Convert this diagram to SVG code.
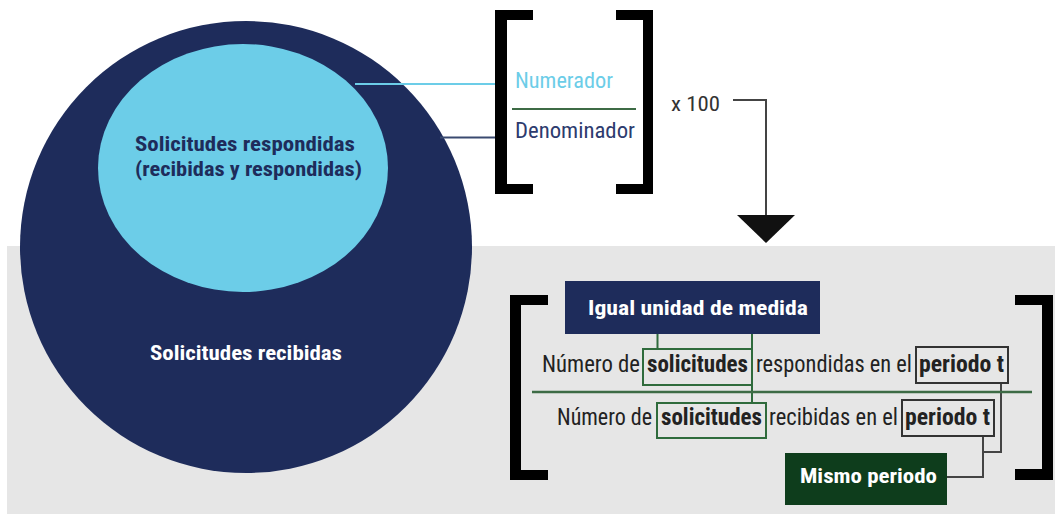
<svg xmlns="http://www.w3.org/2000/svg" width="1055" height="514" viewBox="0 0 1055 514">
<style>
text{font-family:"Liberation Sans Narrow","Roboto Condensed","Liberation Sans",Arial,sans-serif}
.b{font-weight:bold}
.br{fill:#000}
.gline{stroke:#2f6b3c;stroke-width:2;fill:none}
.kline{stroke:#444;stroke-width:2;fill:none}
.gbox{fill:none;stroke:#2f6b3c;stroke-width:2}
.kbox{fill:none;stroke:#333;stroke-width:2}
.frm{font-size:23px;fill:#222}
</style>
<rect width="1055" height="514" fill="#fff"/>
<rect id="panel" x="7" y="246" width="1048" height="268" fill="#e6e6e6"/>

<g id="recibidas">
<circle cx="246" cy="247" r="226" fill="#1e2c5b"/>
<text class="b" x="150" y="360" font-size="21" fill="#fff" textLength="192" lengthAdjust="spacingAndGlyphs">Solicitudes recibidas</text>
</g>
<g id="respondidas">
<ellipse cx="243" cy="168" rx="145" ry="124" fill="#6ccde8"/>
<text class="b" x="135" y="151" font-size="21" fill="#1e2c5b" textLength="220" lengthAdjust="spacingAndGlyphs">Solicitudes respondidas</text>
<text class="b" x="135" y="176" font-size="21" fill="#1e2c5b" textLength="227" lengthAdjust="spacingAndGlyphs">(recibidas y respondidas)</text>
</g>

<g id="connectors">
<line x1="355" y1="84" x2="507" y2="84" stroke="#6ccde8" stroke-width="2"/>
<line x1="440" y1="137.5" x2="507" y2="137.5" stroke="#3a4a70" stroke-width="2"/>
<polyline class="kline" points="733,100 766,100 766,216"/>
<polygon points="737,215 795,215 766,243" fill="#111"/>
<line class="gline" x1="657.5" y1="334" x2="657.5" y2="349"/>
<line class="gline" x1="752" y1="334" x2="752" y2="403"/>
<polyline class="kline" points="1001,383 1001,452 983,452"/>
<polyline class="kline" points="983,436 983,477 947,477"/>
</g>

<g id="formula-top">
<path class="br" d="M495,10H533V20H507V184H533V194H495Z"/>
<path class="br" d="M653,10H616V20H643V184H616V194H653Z"/>
<text x="515" y="88" font-size="22" fill="#6ccde8" textLength="98" lengthAdjust="spacingAndGlyphs">Numerador</text>
<line x1="512" y1="109" x2="636" y2="109" stroke="#3d6b45" stroke-width="2"/>
<text x="515" y="138" font-size="22" fill="#2d3b6e" textLength="120" lengthAdjust="spacingAndGlyphs">Denominador</text>
<text x="671" y="111" font-size="21" fill="#333" textLength="49" lengthAdjust="spacingAndGlyphs">x 100</text>
</g>

<g id="formula-bottom">
<path class="br" d="M510,295H548V305H521V470H548V480H510Z"/>
<path class="br" d="M1053,295H1015V305H1042V469H1015V480H1053Z"/>
<line x1="532" y1="392" x2="1032" y2="392" stroke="#3d6b45" stroke-width="2.5"/>
<text class="frm" x="542" y="372" textLength="98" lengthAdjust="spacingAndGlyphs">Número de</text>
<rect class="gbox" x="643" y="349" width="109" height="36"/>
<text class="frm b" x="647" y="372" textLength="101" lengthAdjust="spacingAndGlyphs">solicitudes</text>
<text class="frm" x="756" y="372" textLength="156" lengthAdjust="spacingAndGlyphs">respondidas en el</text>
<rect class="kbox" x="916" y="347" width="92" height="36"/>
<text class="frm b" x="919" y="372" textLength="85" lengthAdjust="spacingAndGlyphs">periodo t</text>
<text class="frm" x="557" y="425" textLength="95" lengthAdjust="spacingAndGlyphs">Número de</text>
<rect class="gbox" x="657" y="403" width="109" height="35"/>
<text class="frm b" x="661" y="425" textLength="101" lengthAdjust="spacingAndGlyphs">solicitudes</text>
<text class="frm" x="769" y="425" textLength="129" lengthAdjust="spacingAndGlyphs">recibidas en el</text>
<rect class="kbox" x="902" y="400" width="92" height="36"/>
<text class="frm b" x="905" y="425" textLength="85" lengthAdjust="spacingAndGlyphs">periodo t</text>
</g>

<g id="igual-unidad">
<rect x="565" y="281" width="255" height="53" fill="#1e2c5b"/>
<text class="b" x="588" y="315" font-size="21" fill="#fff" textLength="220" lengthAdjust="spacingAndGlyphs">Igual unidad de medida</text>
</g>
<g id="mismo-periodo">
<rect x="785" y="453" width="162" height="52" fill="#0e3d1c"/>
<text class="b" x="800" y="483" font-size="21" fill="#fff" textLength="137" lengthAdjust="spacingAndGlyphs">Mismo periodo</text>
</g>
</svg>
